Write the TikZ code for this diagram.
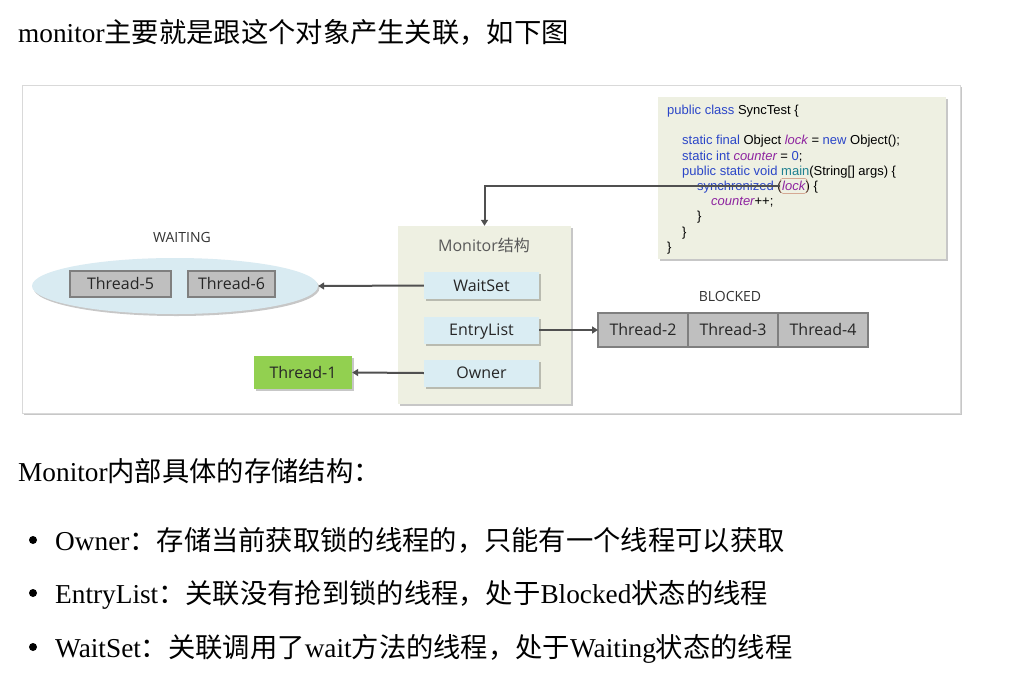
\documentclass[tikz,border=0pt]{standalone}
\usepackage{fontspec}
\setmainfont{Liberation Serif}
\newfontfamily\cjk{Noto Sans CJK SC}
\newfontfamily\diagfont{Open Sans}
\newfontfamily\codefont{Liberation Sans}
\usetikzlibrary{positioning,shadows,fit,arrows.meta,shapes.geometric}

\definecolor{codebg}{HTML}{EEF0E2}
\definecolor{boxblue}{HTML}{DAEDF3}
\definecolor{ellblue}{HTML}{D9EBF2}
\definecolor{thgray}{HTML}{BFBFBF}
\definecolor{thborder}{HTML}{7F7F7F}
\definecolor{ownergreen}{HTML}{92D050}
\definecolor{arrowgray}{HTML}{505050}
\definecolor{kwblue}{HTML}{2B46C8}
\definecolor{idpurple}{HTML}{8E24A0}
\definecolor{mainteal}{HTML}{1F8090}
\definecolor{lockbrown}{HTML}{C8826A}
\definecolor{framegray}{HTML}{D9D9D9}
\definecolor{titlegray}{HTML}{595959}

\newcommand{\kw}[1]{{\color{kwblue}#1}}
\newcommand{\id}[1]{{\color{idpurple}\itshape #1}}

\tikzset{soft shadow/.style={drop shadow={shadow xshift=1.5pt,shadow yshift=-2pt,fill=black,opacity=0.22}}}
\tikzset{panel/.style={fill=codebg,soft shadow,inner sep=0pt}}
\tikzset{field box/.style={fill=boxblue,soft shadow,minimum width=115pt,minimum height=27pt,inner sep=0pt,text height=11.5pt,text depth=0pt,text=black!85,font=\diagfont\fontsize{16}{19}\selectfont}}
\tikzset{thread box/.style={fill=thgray,draw=thborder,line width=1.5pt,outer sep=0pt,minimum height=26pt,inner sep=0pt,text height=11.5pt,text depth=0pt,text=black!85,font=\diagfont\fontsize{16}{19}\selectfont}}
\tikzset{state label/.style={inner sep=0pt,text=black!80,font=\diagfont\fontsize{14}{17}\selectfont}}
\tikzset{code line/.style={anchor=base west,inner sep=0pt,font=\codefont\fontsize{13}{15}\selectfont}}
\tikzset{conn/.style={draw=arrowgray,line width=2pt,-{Triangle[width=7pt,length=6pt]}}}
\tikzset{body text/.style={anchor=base west,inner sep=0pt,font=\fontsize{27.3}{32}\selectfont}}
\tikzset{bullet/.style={circle,fill=black,inner sep=0pt,minimum size=8pt}}

\begin{document}
\begin{tikzpicture}[x=1pt,y=-1pt]
            \useasboundingbox[fill=white] (0,0) rectangle (1034,678);

            % text above the picture
            \node[body text] (intro) at (18,42) {monitor{\cjk 主要就是跟这个对象产生关联，如下图}};

            % picture frame
            \node (frame) [draw=framegray, fill=white, soft shadow, minimum width=938pt, minimum height=328pt] at (491,249) {};

            % code
            \node[panel, minimum width=288pt, minimum height=162pt] (codebox) at (802,178) {};
            \node[code line] (c1) at (667,114.5) {\kw{public class} SyncTest \{};
            \node[code line] (c2) at (682,144.9) {\kw{static final} Object \id{lock} = \kw{new} Object();};
            \node[code line] (c3) at (682,160.1) {\kw{static int} \id{counter} = \kw{0};};
            \node[code line] (c4) at (682,175.3) {\kw{public static void} {\color{mainteal}main}(String[] args) \{};
            \node[code line] (c5) at (697,190.5) {\kw{synchronized} (};
            \node[code line] (lockword) at (c5.base east) {\id{lock}};
            \node[code line] (c5b) at (lockword.base east) {) \{};
            \node[code line] (c6) at (711,205.7) {\id{counter}++;};
            \node[code line] (c7) at (697,220.9) {\}};
            \node[code line] (c8) at (682,236.1) {\}};
            \node[code line] (c9) at (667,251.3) {\}};
            \node (lockmark) [fit=(lockword), inner xsep=2pt, inner ysep=2.5pt, draw=lockbrown, rounded corners=3pt] {};

            % monitor
            \node[panel, minimum width=173pt, minimum height=178pt] (monitor) at (484.5,315) {};
            \node[inner sep=0pt, text=titlegray, font=\diagfont\fontsize{16}{19}\selectfont] (montitle) at (484,245) {Monitor{\cjk 结构}};
            \node[field box] (waitset) at (481.5,285.5) {WaitSet};
            \node[field box] (entrylist) at (481.5,330) {EntryList};
            \node[field box] (owner) at (481.5,373) {Owner};

            % waiting
            \node (waitpool) [ellipse, fill=ellblue, soft shadow, minimum width=286pt, minimum height=56pt] at (175,286) {};
            \node[state label] (waiting) at (182,237) {WAITING};
            \node[thread box, minimum width=101pt] (t5) at (120.5,284) {Thread-5};
            \node[thread box, minimum width=87pt] (t6) at (231.5,284) {Thread-6};

            % blocked
            \node[state label] (blocked) at (730,296) {BLOCKED};
            \node[thread box, minimum width=90pt, minimum height=34pt] (t2) at (643,330) {Thread-2};
            \node[thread box, minimum width=90pt, minimum height=34pt] (t3) [right = 0pt of t2] {Thread-3};
            \node[thread box, minimum width=90pt, minimum height=34pt] (t4) [right = 0pt of t3] {Thread-4};

            % owner
            \node[fill=ownergreen, soft shadow, minimum width=98pt, minimum height=33pt, inner sep=0pt, text height=11.5pt, text depth=0pt, text=black!85, font=\diagfont\fontsize{16}{19}\selectfont] (t1) at (303,372.5) {Thread-1};

            \draw[conn] (lockmark.west) -| (monitor.north);
            \draw[conn] (waitset.west) -- (waitpool.east);
            \draw[conn] (entrylist.east) -- (t2.west);
            \draw[conn] (owner.west) -- (t1.east);

            % text below the picture
            \node[body text] (structure) at (18,481) {Monitor{\cjk 内部具体的存储结构：}};
            \node[bullet] (b1) at (33,540) {};
            \node[bullet] (b2) at (33,593) {};
            \node[bullet] (b3) at (33,647) {};
            \node[body text] (ownerline) at (55,550) {Owner{\cjk ：存储当前获取锁的线程的，只能有一个线程可以获取}};
            \node[body text] (entryline) at (55,603) {EntryList{\cjk ：关联没有抢到锁的线程，处于}Blocked{\cjk 状态的线程}};
            \node[body text] (waitline) at (55,657) {WaitSet{\cjk ：关联调用了}wait{\cjk 方法的线程，处于}Waiting{\cjk 状态的线程}};
        \end{tikzpicture}
\end{document}
